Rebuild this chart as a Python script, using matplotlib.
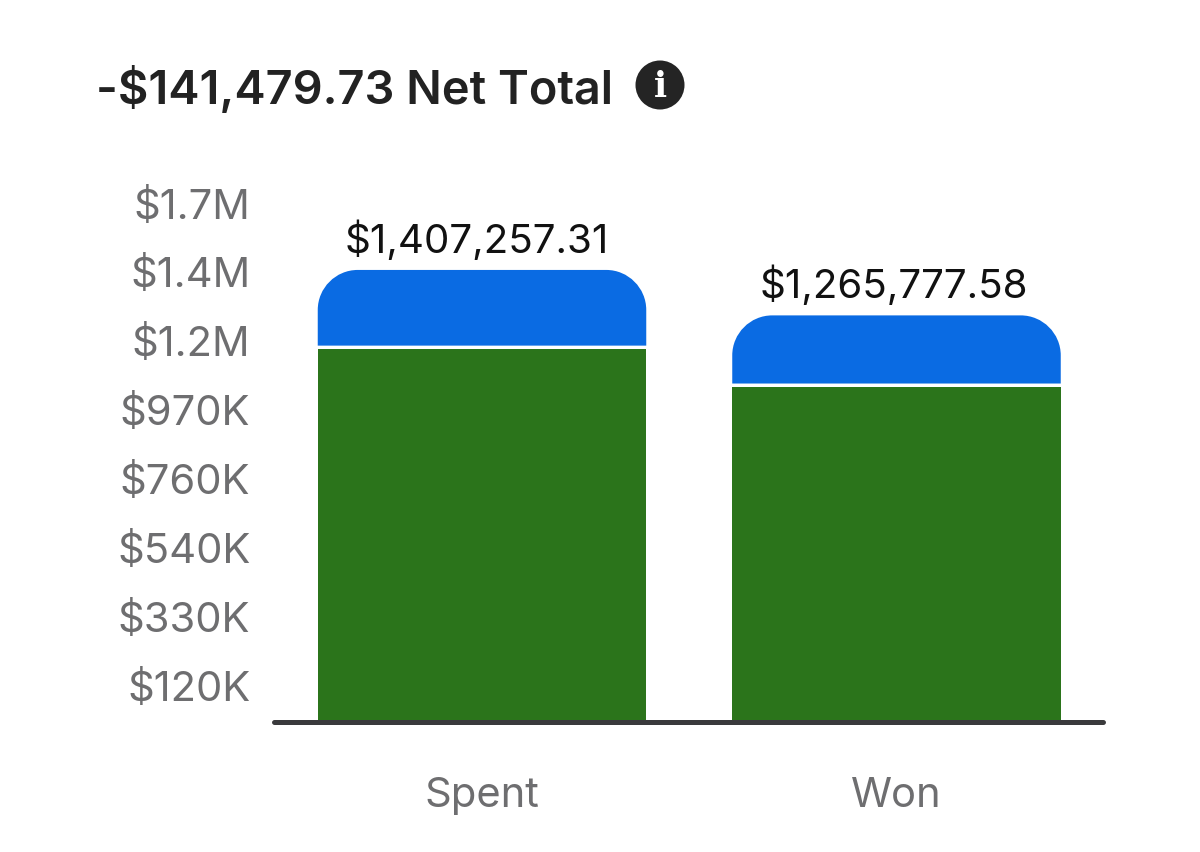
import matplotlib
matplotlib.use("Agg")
import matplotlib.pyplot as plt
from matplotlib.path import Path
from matplotlib.patches import PathPatch, Circle

categories = ["Spent", "Won"]
total_values = [1407257.31, 1265777.58]
green_values = [1167000, 1049000]
total_labels = ["$1,407,257.31", "$1,265,777.58"]
tick_values = [116000, 331000, 546000, 760000, 975000, 1190000, 1404000, 1618000]
tick_labels = ["$120K", "$330K", "$540K", "$760K", "$970K", "$1.2M", "$1.4M", "$1.7M"]
title_text = "-$141,479.73 Net Total"

BLUE = "#0A6BE3"
GREEN = "#2B741B"
W, H = 1200, 853
plt.rcParams["font.family"] = ["Inter", "DejaVu Sans"]

fig = plt.figure(figsize=(W / 100, H / 100), dpi=100, facecolor="white")
L, R, T, B = 274, 1103, 150, 723
ax = fig.add_axes([L / W, 1 - B / H, (R - L) / W, (B - T) / H])
PX = 3113.0
XPX = 414.5
ax.set_xlim((L - 482) / XPX, (R - 482) / XPX)
ax.set_ylim(0, (B - T) * PX)
for s in ax.spines.values():
    s.set_visible(False)
ax.patch.set_alpha(0)

bw = 328.5 / XPX
rx = 40 / XPX
ry = 40 * PX
k = 0.45
gap = 1.5 * PX
for i, (tot, grn) in enumerate(zip(total_values, green_values)):
    ax.bar(i, grn - gap, width=bw, color=GREEN, linewidth=0, zorder=2)
    x0, x1 = i - bw / 2, i + bw / 2
    y0 = grn + gap
    verts = [(x0, y0), (x0, tot - ry),
             (x0, tot - ry * k), (x0 + rx * k, tot), (x0 + rx, tot),
             (x1 - rx, tot),
             (x1 - rx * k, tot), (x1, tot - ry * k), (x1, tot - ry),
             (x1, y0), (x0, y0)]
    codes = [Path.MOVETO, Path.LINETO,
             Path.CURVE4, Path.CURVE4, Path.CURVE4,
             Path.LINETO,
             Path.CURVE4, Path.CURVE4, Path.CURVE4,
             Path.LINETO, Path.CLOSEPOLY]
    ax.add_patch(PathPatch(Path(verts, codes), facecolor=BLUE, edgecolor="none", zorder=2))
    ax.annotate(total_labels[i], (i, tot), xytext=(-5 if i == 0 else -3, 10), textcoords="offset pixels",
                ha="center", va="bottom", fontsize=29, color="#111111", zorder=4)

ax.axhline(0, color="#3A3A3C", lw=3.6, solid_capstyle="round", zorder=3, clip_on=False)
ax.set_xticks(range(len(categories)), categories)
ax.set_yticks(tick_values, tick_labels)
ax.tick_params(axis="both", length=0, colors="#6E6E70", labelsize=30)
ax.tick_params(axis="x", pad=39)
ax.tick_params(axis="y", pad=17)

fig.text(96 / W, 1 - 90 / H, title_text, fontsize=33.8, fontweight="semibold",
         color="#222222", ha="left", va="center")
# info icon
ic = fig.add_axes([0, 0, 1, 1], facecolor="none")
ic.set_xlim(0, W)
ic.set_ylim(H, 0)
ic.axis("off")
ic.add_patch(Circle((660, 86), 24.5, color="#242424", lw=0))
ic.text(660, 87, "i", color="white", fontsize=25, fontweight="bold", ha="center", va="center",
        family="DejaVu Serif")

fig.savefig("out.png", dpi=100, facecolor="white")
